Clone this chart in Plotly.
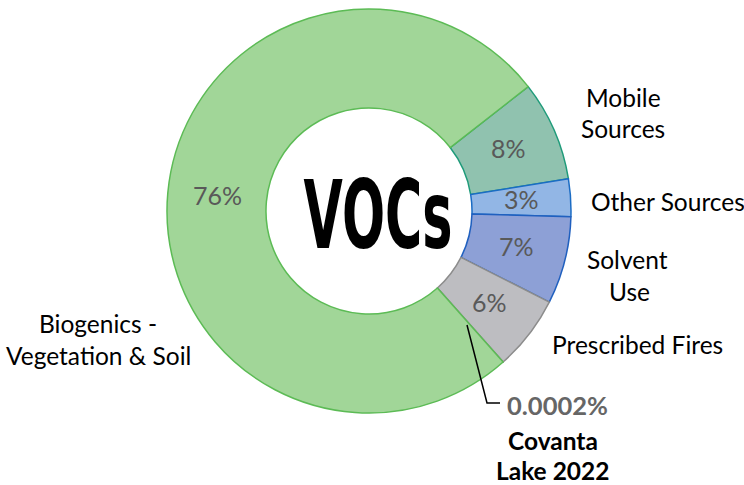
import math
import plotly.graph_objects as go

categories = ["Mobile Sources", "Other Sources", "Solvent Use", "Prescribed Fires",
              "Covanta Lake 2022", "Biogenics - Vegetation & Soil"]
values = [8, 3, 7, 6, 0.0002, 76]
slice_text = ["8%", "3%", "7%", "6%", "", "76%"]
fill_colors = ["#90c2af", "#92b6e5", "#8da0d6", "#bdbdc1", "#bdbdc1", "#a1d698"]
line_colors = ["#1f9b7a", "#1b6cc4", "#2060bf", "#8c8c8c", "#8c8c8c", "#5cbb55"]

W, H = 744, 485
cx, cy, R = 369, 211, 202
HOLE = 0.51
ROT = 52

fig = go.Figure(go.Pie(
    labels=categories, values=values, textinfo="none",
    marker=dict(colors=fill_colors, line=dict(color=line_colors, width=1.5)),
    hole=HOLE, sort=False, direction="clockwise", rotation=ROT,
    domain=dict(x=[(cx - R) / W, (cx + R) / W], y=[(H - cy - R) / H, (H - cy + R) / H]),
    showlegend=False, hoverinfo="label+percent",
))

def ann(text, x, y, size=24.5, color="black", bold=False, family="Lato"):
    if bold:
        text = "<b>" + text + "</b>"
    fig.add_annotation(text=text, x=x / W, y=1 - y / H, xref="paper", yref="paper",
                       showarrow=False, xanchor="center", yanchor="middle",
                       font=dict(family=family, size=size, color=color))

# percentage labels at mid-angle, mid-ring of each slice (derived from the values)
total = sum(values)
start = ROT
rmid = R * (1 + HOLE) / 2
for v, t in zip(values, slice_text):
    span = 360 * v / total
    mid = math.radians(start + span / 2)
    start += span
    if t:
        ann(t, cx + rmid * math.sin(mid), cy - rmid * math.cos(mid) - 2, size=25, color="#595959")

ann("Mobile", 623, 98)
ann("Sources", 623, 129)
ann("Other Sources", 668, 201)
ann("Solvent", 627, 259)
ann("Use", 629, 291)
ann("Prescribed Fires", 637, 344)
ann("Biogenics -", 98, 323)
ann("Vegetation & Soil", 98, 355)
ann("0.0002%", 557, 405, size=25.5, color="#666666", bold=True)
ann("Covanta", 553, 440, bold=True)
ann("Lake 2022", 553, 470, bold=True)
ann("VOCs", 378, 215, size=94, bold=True, family="DejaVu Sans Condensed")

fig.add_shape(type="path", xref="paper", yref="paper",
              path=f"M {467/W} {1-325/H} L {487/W} {1-403/H} L {500/W} {1-403/H}",
              line=dict(color="black", width=1.5))

fig.update_layout(width=W, height=H, margin=dict(l=0, r=0, t=0, b=0),
                  paper_bgcolor="white", plot_bgcolor="white")

post = """
document.body.style.margin='0';
document.querySelectorAll('text.annotation-text').forEach(function(el){
  if (el.textContent.trim() === 'VOCs') {
    el.style.transformBox = 'fill-box';
    el.style.transformOrigin = 'center';
    el.style.transform = 'scaleX(0.6)';
  }
});
"""
fig.write_html("out.html", post_script=post, config={"displayModeBar": False})
